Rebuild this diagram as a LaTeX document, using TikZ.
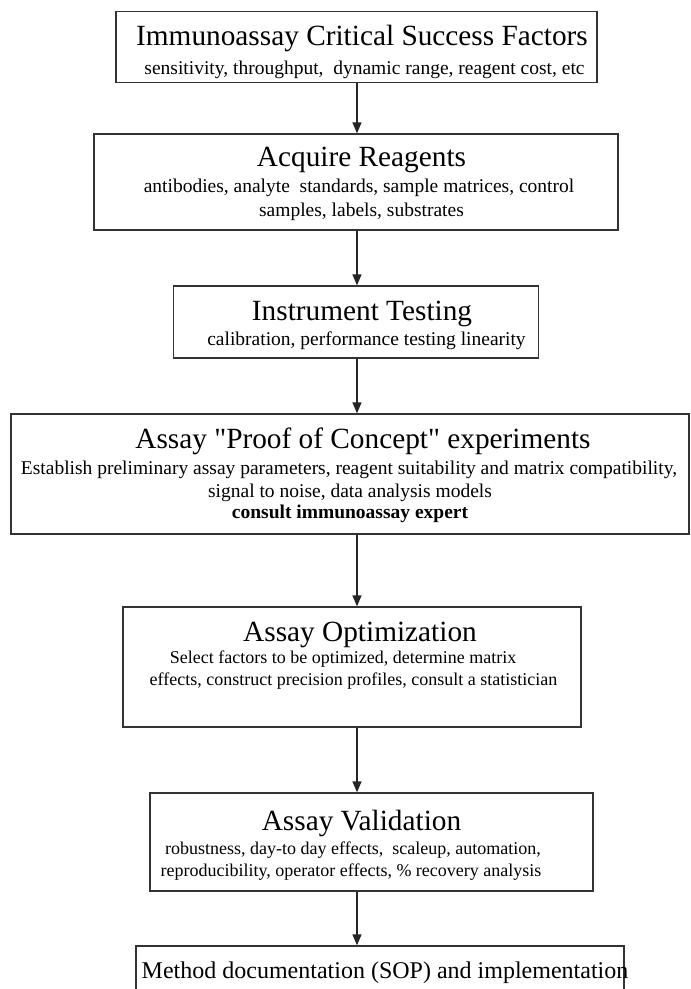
\documentclass[tikz,border=0pt]{standalone}
\usepackage{fontspec}
\setmainfont{Liberation Serif}[Ligatures=TeXOff]
\usetikzlibrary{arrows.meta}
\begin{document}
\begin{tikzpicture}[x=1pt,y=-1pt,
  stepbox/.style={draw=black!80, line width=1.3pt, inner sep=0pt},
  head/.style={font=\fontsize{29.3}{31}\selectfont, inner sep=0pt, anchor=base},
  body/.style={font=\fontsize{19.5}{21}\selectfont, inner sep=0pt, anchor=base},
  small body/.style={body, font=\fontsize{18}{20}\selectfont},
  flow/.style={draw=black!85, line width=1.3pt, -{Triangle[length=11pt,width=9pt]}}]
\useasboundingbox (0,0) rectangle (691,989);
\clip (0,0) rectangle (691,989);
\fill[white] (0,0) rectangle (691,989);

% process boxes
\node[stepbox, minimum width=481pt, minimum height=71pt]  (b1) at (356.5,47)  {};
\node[stepbox, minimum width=524pt, minimum height=96pt]  (b2) at (356,182)   {};
\node[stepbox, minimum width=365pt, minimum height=72pt]  (b3) at (356,322)   {};
\node[stepbox, minimum width=678pt, minimum height=120pt] (b4) at (350,474)   {};
\node[stepbox, minimum width=458pt, minimum height=120pt] (b5) at (352,667)   {};
\node[stepbox, minimum width=443pt, minimum height=98pt]  (b6) at (371.5,842) {};
\node[stepbox, minimum width=488pt, minimum height=80pt]  (b7) at (380,986)   {};

% box texts
\node[head] (h1) at (362,45) {Immunoassay Critical Success Factors};
\node[body] (s1) at (364.5,74) {sensitivity, throughput,\ \ dynamic range, reagent cost, etc};

\node[head] (h2) at (361.5,166) {Acquire Reagents};
\node[body] (s2a) at (359,192) {antibodies, analyte\ \ standards, sample matrices, control};
\node[body] (s2b) at (361.5,216) {samples, labels,\ substrates};

\node[head] (h3) at (362,320) {Instrument Testing};
\node[body] (s3) at (366.5,345) {calibration, performance testing linearity};

\node[head] (h4) at (363,448) {Assay "Proof of Concept" experiments};
\node[body] (s4a) at (349,474) {Establish preliminary assay parameters, reagent suitability and matrix compatibility,};
\node[body] (s4b) at (350,497) {signal to noise, data analysis models};
\node[body] (s4c) at (350,518) {\textbf{consult immunoassay expert}};

\node[head] (h5) at (360,641) {Assay Optimization};
\node[small body] (s5a) at (343,663) {Select factors to be optimized, determine matrix};
\node[small body] (s5b) at (353.5,685) {effects, construct precision profiles, consult a statistician};

\node[head] (h6) at (361.5,830) {Assay Validation};
\node[small body] (s6a) at (353,854) {robustness, day-to day effects,\ \ scaleup, automation,};
\node[small body] (s6b) at (351,876) {reproducibility, operator effects, \% recovery analysis};

\node[head, font=\fontsize{24}{26}\selectfont] (h7) at (385,978) {Method documentation (SOP) and implementation};

% connectors
\coordinate (ax) at (357,0);
\draw[flow] (b1.south -| ax) -- (b2.north -| ax);
\draw[flow] (b2.south -| ax) -- (b3.north -| ax);
\draw[flow] (b3.south -| ax) -- (b4.north -| ax);
\draw[flow] (b4.south -| ax) -- (b5.north -| ax);
\draw[flow] (b5.south -| ax) -- (b6.north -| ax);
\draw[flow] (b6.south -| ax) -- (b7.north -| ax);
\end{tikzpicture}
\end{document}
